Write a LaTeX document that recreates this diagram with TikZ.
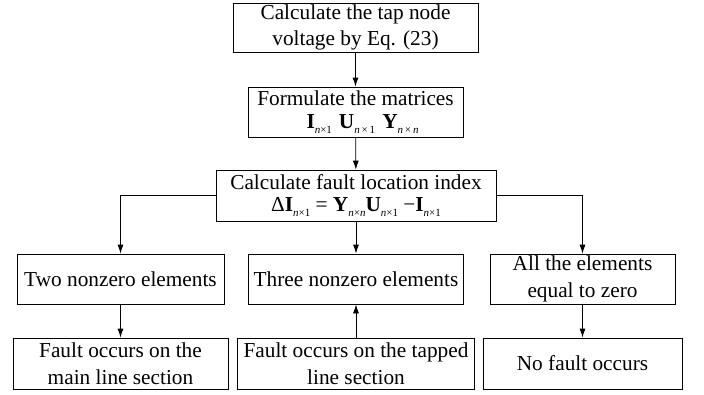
\documentclass[tikz,border=0pt]{standalone}
\usepackage{fontspec}
\setmainfont{Liberation Serif}
\usetikzlibrary{arrows.meta}

% small italic subscript for matrix dimensions
\newcommand{\dimsub}[1]{\raisebox{-0.5ex}{\fontsize{11}{11}\selectfont #1}}
\newcommand{\mtx}[2]{\textbf{#1}\dimsub{#2}}
\newcommand{\nn}{\textit{n}}

\begin{document}
\begin{tikzpicture}[x=1pt,y=-1pt,
  box/.style={draw, line width=0.8pt, inner sep=0pt, align=center,
    font=\fontsize{21.3}{26.5}\selectfont},
  conn/.style={line width=0.8pt, -{Latex[length=9pt,width=6pt]}}]
  \useasboundingbox (0,0) rectangle (704,394);

  \node[box, minimum width=245pt, minimum height=49pt] (b1) at (355.5,27.5)
    {Calculate the tap node\\voltage by Eq. (23)};
  \node[box, minimum width=215pt, minimum height=50pt] (b2) at (355.5,112)
    {Formulate the matrices\\[-4pt]
     \hspace*{14pt}\mtx{I}{\nn×1}\hspace{7pt}\mtx{U}{\nn\,×\,1}\hspace{7pt}\mtx{Y}{\nn\,×\,\nn}};
  \node[box, minimum width=280pt, minimum height=51pt] (b3) at (356,195.5)
    {Calculate fault location index\\[-4pt]
     Δ\mtx{I}{\nn×1} = \mtx{Y}{\nn×\nn}\mtx{U}{\nn×1} −\mtx{I}{\nn×1}};

  \node[box, minimum width=207pt, minimum height=50pt] (ra) at (120.5,279)
    {Two nonzero elements};
  \node[box, minimum width=215pt, minimum height=50pt] (rb) at (356,279)
    {Three nonzero elements};
  \node[box, minimum width=185pt, minimum height=50pt] (rc) at (582.5,279)
    {All the elements\\equal to zero};

  \node[box, minimum width=215pt, minimum height=51pt] (da) at (120.5,363.5)
    {Fault occurs on the\\main line section};
  \node[box, minimum width=237pt, minimum height=51pt] (db) at (356,363.5)
    {Fault occurs on the tapped\\line section};
  \node[box, minimum width=199pt, minimum height=51pt] (dc) at (582.5,363.5)
    {No fault occurs};

  \draw[conn] (b1) -- (b2);
  \draw[conn] (b2) -- (b3);
  \draw[conn] (b3.west) -| (ra.north);
  \draw[conn] (b3) -- (rb);
  \draw[conn] (b3.east) -| (rc.north);
  \draw[conn] (ra) -- (da);
  \draw[conn] (db) -- (rb);
  \draw[conn] (rc) -- (dc);
\end{tikzpicture}
\end{document}
